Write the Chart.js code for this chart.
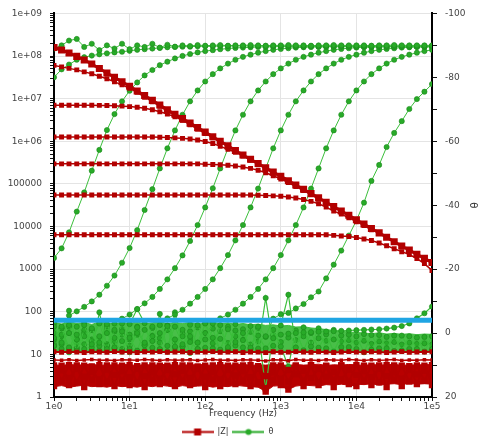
<!DOCTYPE html>
<html lang="en">
<head>
    <meta charset="UTF-8">
    <title>|Z| and θ vs Frequency</title>
    <script src="https://cdn.jsdelivr.net/npm/chart.js@4.4.0/dist/chart.umd.min.js"></script>
    <style>
        html, body { margin: 0; padding: 0; background: #fff; overflow: hidden; }
        #chart-container { position: relative; width: 479px; height: 441px; }
    </style>
</head>
<body>
<div id="chart-container"><canvas id="myChart" width="479" height="441"></canvas></div>

<script>
    // frequency grid (Hz), 10 points per decade
    const freq = [1, 1.26, 1.58, 2, 2.51, 3.16, 3.98, 5.01, 6.31, 7.94,
        10, 12.6, 15.8, 20, 25.1, 31.6, 39.8, 50.1, 63.1, 79.4,
        100, 126, 158, 200, 251, 316, 398, 501, 631, 794,
        1000, 1260, 1580, 2000, 2510, 3160, 3980, 5010, 6310, 7940,
        10000, 12600, 15800, 20000, 25100, 31600, 39800, 50100, 63100, 79400,
        100000];

    // |Z| (ohm) - left axis
    const zCap = [1.59e8, 1.39e8, 1.18e8, 9.8e7, 8.1e7, 6.5e7, 5.1e7, 4.0e7, 3.16e7, 2.48e7,
        1.95e7, 1.51e7, 1.18e7, 9.1e6, 7.1e6, 5.5e6, 4.3e6, 3.4e6, 2.66e6, 2.09e6,
        1.64e6, 1.28e6, 1.0e6, 7.8e5, 6.1e5, 4.76e5, 3.78e5, 3.0e5, 2.38e5, 1.89e5,
        1.5e5, 1.19e5, 9.4e4, 7.5e4, 5.9e4, 4.7e4, 3.7e4, 2.93e4, 2.31e4, 1.83e4,
        1.44e4, 1.14e4, 8.98e3, 7.1e3, 5.6e3, 4.4e3, 3.5e3, 2.8e3, 2.24e3, 1.79e3,
        1.43e3];
    const z60M = [6.03e7, 5.56e7, 5.13e7, 4.73e7, 4.25e7, 3.82e7, 3.34e7, 2.92e7, 2.48e7, 2.11e7,
        1.75e7, 1.41e7, 1.08e7, 8.5e6, 6.6e6, 5.1e6, 4.0e6, 3.13e6, 2.45e6, 1.93e6,
        1.51e6];
    const z7M = [7.0e6, 7.0e6, 7.0e6, 7.0e6, 7.0e6, 6.98e6, 6.95e6, 6.87e6, 6.79e6, 6.67e6,
        6.5e6, 6.26e6, 5.92e6, 5.48e6, 4.95e6, 4.35e6, 3.74e6, 3.1e6, 2.5e6, 1.97e6,
        1.55e6, 1.21e6, 9.5e5];
    const z1M = [1.26e6, 1.26e6, 1.26e6, 1.26e6, 1.26e6, 1.26e6, 1.26e6, 1.26e6, 1.26e6, 1.26e6,
        1.26e6, 1.26e6, 1.26e6, 1.26e6, 1.236e6, 1.22e6, 1.2e6, 1.17e6, 1.13e6, 1.07e6,
        9.9e5, 8.9e5, 7.6e5, 6.5e5, 5.5e5, 4.5e5, 3.6e5, 2.88e5, 2.27e5, 1.8e5];
    const z300k = [2.95e5, 2.95e5, 2.95e5, 2.95e5, 2.95e5, 2.95e5, 2.95e5, 2.95e5, 2.95e5, 2.95e5,
        2.95e5, 2.95e5, 2.95e5, 2.95e5, 2.95e5, 2.95e5, 2.95e5, 2.95e5, 2.95e5, 2.95e5,
        2.89e5, 2.86e5, 2.81e5, 2.74e5, 2.64e5, 2.5e5, 2.31e5, 2.09e5, 1.83e5, 1.55e5,
        1.3e5, 1.07e5, 8.7e4, 7.0e4, 5.6e4, 4.45e4];
    const z55k = [5.5e4, 5.5e4, 5.5e4, 5.5e4, 5.5e4, 5.5e4, 5.5e4, 5.5e4, 5.5e4, 5.5e4,
        5.5e4, 5.5e4, 5.5e4, 5.5e4, 5.5e4, 5.5e4, 5.5e4, 5.5e4, 5.5e4, 5.5e4,
        5.5e4, 5.5e4, 5.5e4, 5.5e4, 5.5e4, 5.5e4, 5.5e4, 5.4e4, 5.34e4, 5.24e4,
        5.11e4, 4.92e4, 4.65e4, 4.31e4, 3.89e4, 3.42e4, 2.85e4, 2.3e4, 1.95e4, 1.6e4,
        1.3e4, 1.05e4, 8.4e3];
    const z6k = [6.4e3, 6.4e3, 6.4e3, 6.4e3, 6.4e3, 6.4e3, 6.4e3, 6.4e3, 6.4e3, 6.4e3,
        6.4e3, 6.4e3, 6.4e3, 6.4e3, 6.4e3, 6.4e3, 6.4e3, 6.4e3, 6.4e3, 6.4e3,
        6.4e3, 6.4e3, 6.4e3, 6.4e3, 6.4e3, 6.4e3, 6.4e3, 6.4e3, 6.4e3, 6.4e3,
        6.4e3, 6.4e3, 6.4e3, 6.4e3, 6.4e3, 6.4e3, 6.4e3, 6.2e3, 6.0e3, 5.8e3,
        5.5e3, 5.1e3, 4.7e3, 4.1e3, 3.55e3, 3.0e3, 2.57e3, 2.2e3, 1.77e3, 1.35e3,
        930];
    // low impedance runs (noisy)
    const zLowA = [11.5, 11.2, 11.6, 11.3, 11.1, 11.5, 11.4, 11.2, 11.6, 11.3,
        11.4, 11.1, 11.5, 11.3, 11.6, 11.2, 11.4, 11.5, 11.1, 11.3,
        11.4, 11.6, 11.2, 11.3, 11.5, 11.1, 11.4, 11.3, 11.0, 11.5,
        11.2, 11.3, 11.6, 11.4, 11.2, 11.5, 11.3, 11.1, 11.4, 11.6,
        11.3, 11.2, 11.5, 11.4, 11.1, 11.3, 11.6, 11.2, 11.4, 11.3,
        11.5];
    const zLowB = [7.4, 7.3, 7.5, 7.2, 7.4, 7.6, 7.3, 7.4, 7.2, 7.5,
        7.4, 7.3, 7.6, 7.4, 7.2, 7.5, 7.3, 7.4, 7.5, 7.2,
        7.4, 7.6, 7.3, 7.4, 7.2, 7.5, 7.4, 7.3, 7.0, 7.5,
        7.4, 7.1, 7.6, 7.3, 7.4, 7.2, 7.5, 7.4, 7.3, 7.6,
        7.4, 7.2, 7.5, 7.3, 7.4, 7.6, 7.2, 7.4, 7.3, 7.5,
        7.4];
    const zLowC = [1.8, 5.4, 1.9, 5.5, 1.7, 5.2, 2.0, 5.5, 1.8, 5.4,
        1.9, 5.3, 1.7, 5.5, 2.0, 5.4, 1.8, 5.5, 1.9, 5.2,
        1.7, 5.5, 1.8, 5.4, 2.0, 5.5, 1.8, 5.3, 1.35, 5.5,
        1.9, 1.5, 5.4, 1.8, 5.5, 1.9, 5.3, 1.7, 5.5, 2.0,
        1.8, 5.4, 1.9, 5.5, 1.7, 5.5, 1.8, 5.3, 2.0, 5.4,
        1.9];
    const zLowD = [5.5, 2.4, 5.6, 2.2, 5.4, 2.5, 5.6, 2.3, 5.5, 2.4,
        5.6, 2.2, 5.5, 2.5, 5.4, 2.3, 5.6, 2.4, 5.5, 2.2,
        5.4, 2.5, 5.6, 2.3, 5.4, 2.4, 5.6, 2.2, 1.6, 2.5,
        5.5, 2.3, 5.4, 2.4, 5.6, 2.2, 5.4, 2.5, 5.5, 2.3,
        5.6, 2.4, 5.4, 2.2, 5.6, 2.5, 5.4, 2.3, 5.5, 2.4,
        5.6];
    const zLowE = [3.2, 4.2, 2.8, 4.5, 3.0, 3.9, 2.6, 4.4, 3.3, 4.0,
        2.9, 4.6, 3.1, 3.8, 2.7, 4.3, 3.4, 4.1, 2.8, 4.5,
        3.0, 3.9, 2.6, 4.4, 3.2, 4.0, 2.9, 4.6, 3.1, 3.8,
        2.7, 4.3, 3.4, 4.1, 2.8, 4.5, 3.0, 3.9, 2.6, 4.4,
        3.3, 4.0, 2.9, 4.6, 3.1, 3.8, 2.7, 4.3, 3.4, 4.1,
        3.0];
    // outline of the dense low |Z| band
    const zBandTop = [5.7, 5.5, 5.8, 5.6, 5.7, 5.9, 5.5, 5.7, 5.6, 5.8,
        5.7, 5.5, 5.8, 5.6, 5.7, 5.9, 5.5, 5.7, 5.6, 5.8,
        5.7, 5.5, 5.8, 5.6, 5.7, 5.9, 5.5, 5.7, 5.6, 5.8,
        5.7, 5.5, 5.8, 5.6, 5.7, 5.9, 5.5, 5.7, 5.6, 5.8,
        5.7, 5.5, 5.8, 5.6, 5.7, 5.9, 5.5, 5.7, 5.6, 5.8,
        5.7];
    const zBandBottom = [1.75, 1.85, 1.7, 1.8, 1.9, 1.75, 1.8, 1.7, 1.85, 1.75,
        1.8, 1.7, 1.85, 1.75, 1.9, 1.8, 1.7, 1.85, 1.75, 1.8,
        1.85, 1.7, 1.8, 1.75, 1.9, 1.8, 1.75, 1.7, 1.35, 1.8,
        1.85, 1.5, 1.8, 1.9, 1.85, 1.8, 1.95, 1.9, 2.0, 1.9,
        2.0, 1.95, 2.05, 1.9, 2.0, 2.05, 1.95, 2.1, 2.0, 2.05,
        2.0];

    // θ (deg) - right axis
    const thCap = [-89, -90, -91.5, -92, -89.5, -90.5, -88.5, -90, -89, -90.5,
        -88.8, -90, -89.5, -90.5, -89.3, -90.2, -89.6, -90, -89.8, -90.1,
        -89.9, -90, -90.1, -89.9, -90, -90, -90.1, -90, -89.9, -90,
        -90, -90.1, -90, -90, -89.9, -90, -90, -90.1, -90, -90,
        -90, -90, -89.9, -90, -90, -90.1, -90, -90, -90, -90,
        -90];
    const th1G = [-80, -82.5, -84, -85.5, -86.3, -86.8, -87.2, -87.5, -87.8, -88,
        -88.3, -88.6, -88.8, -89, -89.2, -89.4, -89.5, -89.6, -89.6, -89.7,
        -89.7, -89.7, -89.8, -89.8, -89.8, -89.8, -89.8, -89.8, -89.8, -89.8,
        -89.8, -89.8, -89.8, -89.8, -89.8, -89.8, -89.8, -89.8, -89.8, -89.8,
        -89.8, -89.8, -89.8, -89.8, -89.8, -89.8, -89.8, -89.8, -89.8, -89.8,
        -89.8];
    const th60M = [-23.5, -26.5, -31.5, -38, -44, -50.8, -57.3, -63.5, -68.5, -72.5,
        -75.8, -78.4, -80.6, -82.3, -83.8, -84.9, -85.9, -86.7, -87.3, -87.8,
        -88.2, -88.5, -88.8, -89, -89.2, -89.3, -89.4, -89.5, -89.5, -89.6,
        -89.6, -89.6, -89.6, -89.6, -89.6, -89.6, -89.6, -89.6, -89.6, -89.6,
        -89.6, -89.6, -89.6, -89.6, -89.6, -89.6, -89.6, -89.6, -89.6, -89.6,
        -89.6];
    const th7M = [1.5, -2, -5.5, -6.8, -8.2, -9.9, -12, -14.8, -18, -22,
        -26.6, -32.2, -38.5, -45, -51.5, -57.8, -63.4, -68.3, -72.5, -75.9,
        -78.7, -81, -82.8, -84.3, -85.5, -86.4, -87.1, -87.7, -88.2, -88.6,
        -88.9, -89.1, -89.3, -89.4, -89.5, -89.5, -89.6, -89.6, -89.6, -89.6,
        -89.6, -89.6, -89.6, -89.6, -89.6, -89.6, -89.6, -89.6, -89.6, -89.6,
        -89.6];
    const th1M = [2, -1.5, 4.5, 0.5, -2.5, 3.5, 1, 5, -1, -4.5,
        -5.8, -7.5, -9.3, -11.3, -13.8, -16.8, -20.3, -24.3, -28.8, -33.8,
        -39.3, -45.3, -51.5, -57.8, -63.4, -68.3, -72.5, -75.9, -78.7, -81,
        -82.8, -84.3, -85.5, -86.4, -87.1, -87.7, -88.2, -88.6, -88.9, -89.1,
        -89.3, -89.4, -89.5, -89.5, -89.6, -89.6, -89.6, -89.7, -89.7, -89.7,
        -89.7];
    const th300k = [-2, 3, 0, 5.5, -1, 2.5, -3, 4, 1.5, -0.5,
        5, 0, 3, -2, -2.5, -4.6, -5.8, -7.3, -9.2, -11.3,
        -13.8, -16.8, -20.3, -24.4, -29, -33.8, -39.3, -45.2, -51.5, -57.8,
        -63.4, -68.3, -72.5, -75.9, -78.7, -81, -82.8, -84.3, -85.5, -86.4,
        -87.1, -87.7, -88.2, -88.6, -88.9, -89.1, -89.3, -89.4, -89.5, -89.5,
        -89.6];
    const th55k = [4, 0.5, -2.5, 2, 5, -1.5, 3, 0, 4.5, -3,
        1.5, 5.5, -1, 2.5, 0, 4, -2, 3.5, 1, -2.5,
        2, -3, -4.6, -5.8, -7.3, -9.2, -11.3, -13.8, -16.8, -20.3,
        -24.4, -29, -33.8, -39.3, -45.2, -51.5, -57.8, -63.4, -68.3, -72.5,
        -75.9, -78.7, -81, -82.8, -84.3, -85.5, -86.4, -87.1, -87.7, -88.2,
        -88.6];
    const th6k = [0, 3.5, -2, 5, 1, -1, 4, -2.8, 2.5, 5.8,
        0.5, -1.8, 3.8, 1, 5, -2.2, 2, 4.2, -0.5, 3,
        -3, 1.5, 5.2, -1.2, 2.8, 0, 4.6, -2, 1, -4.5,
        -5.9, -6.3, -7.7, -9.1, -11.2, -13, -17.1, -21.4, -25.8, -30.5,
        -35.2, -40.8, -47.6, -52.6, -58.2, -62.6, -66.3, -70.1, -73.2, -75.5,
        -77.9];
    const thLowA = [3, 1, 5, 2, 0, 4.5, 1.5, 3.5, -0.5, 2.5,
        4, 0.5, 5.5, 2, 3, -1, 4.2, 1, 2.8, 5,
        0, 3.2, 1.8, 4.4, -0.8, 2.2, 3.6, 0.8, 4.8, 1.6,
        0.5, 0.2, 0, -0.2, -0.3, -0.4, -0.5, -0.6, -0.7, -0.8,
        -0.9, -1.0, -1.1, -1.2, -1.4, -1.7, -2.2, -3.0, -4.6, -6.2,
        -8.3];
    const thLowB = [-3, 5, -7, 4.5, -3.2, 5.5, -6.5, 4, -3, 5,
        -2.8, -7.5, -3.1, 4.6, -6, 5.8, -6.5, 4.2, -2.6, 5,
        -3.2, 4.8, -2.5, 5.1, -2.8, 4.5, -2.2, 4.9, -11, 4,
        -2.4, -12, 4.5, -1.8, 4.2, -1.5, 4.8, -1, 4.4, 0.5,
        5, 0.3, 5.2, 0.6, 4.8, 0.8, 5.5, 1, 5, 1.2,
        5];
    const thLowC = [4, -1.5, 6, -2, 3.5, -1, 5.5, -2.2, 4.8, -1.2,
        6, -2, 3.8, -1.6, 5.2, -2.4, 4.5, -1, 6.2, -1.8,
        4.6, -1.4, 5.6, -2, 3.9, -1.2, 5, -1.6, 17.5, -1,
        4.2, 10.5, -0.8, 5.4, 0, 4.6, 0.4, 5.8, 0.8, 4.4,
        1, 6, 0.6, 4.8, 1.2, 5.6, 0.8, 5, 1.4, 5.8,
        1];
    const thLowD = [1, 2.5, 0, 3, -0.5, 2, 1.5, -1, 3, 0.5,
        2, -0.5, 3.2, 0.8, 1.6, -1, 2.8, 0.2, 1.8, 3,
        0, 2.4, -0.6, 3.1, 1, 2, -0.4, 2.6, 1.2, 0.6,
        2.8, 1.4, 2.2, 1, 3, 1.6, 2.4, 2, 2.6, 2.2,
        3, 2.4, 3.4, 2.6, 3.2, 2.8, 3.6, 3, 3.4, 3.2,
        3.6];
    // outline of the dense θ noise band
    const thBandTop = [-3.4, -2.8, -3.6, -3.0, -3.3, -2.7, -3.5, -3.1, -2.9, -3.4,
        -3.0, -3.5, -2.8, -3.2, -3.6, -2.9, -3.3, -3.0, -3.4, -2.8,
        -3.1, -3.5, -2.9, -3.2, -2.7, -3.0, -2.6, -2.8, -2.4, -2.6,
        -2.2, -2.4, -1.9, -2.0, -1.6, -1.4, -1.1, -0.8, -0.6, -0.3,
        -0.2, 0, 0.2, -0.1, 0.3, 0.1, 0.4, 0.2, 0.5, 0.3,
        0.4];
    const thBandBottom = [5.6, 6.0, 5.4, 5.9, 5.7, 6.1, 5.5, 5.8, 6.0, 5.6,
        5.9, 5.5, 6.1, 5.7, 5.8, 6.0, 5.4, 5.9, 5.6, 6.1,
        5.7, 5.5, 6.0, 5.8, 5.6, 5.9, 5.4, 5.8, 6.2, 5.7,
        5.9, 6.0, 5.5, 5.8, 6.1, 5.6, 5.9, 5.7, 6.0, 5.8,
        6.1, 5.7, 5.9, 6.2, 5.8, 6.0, 5.7, 6.1, 5.9, 6.0,
        5.8];

    // blue reference level (left axis)
    const refFreq = [1, 100000];
    const refLevel = [63, 63];

    const FONT = 'DejaVu Sans';
    const RED = '#b20000';
    const GREEN = '#3cbf3c';
    const GREEN_DOT = '#28aa28';
    const BLUE = '#1fa5e3';

    function toPoints(values, xs) {
        xs = xs || freq;
        return values.map(function (v, i) { return {x: xs[i], y: v}; });
    }

    function zSet(values, size, width) {
        return {
            data: toPoints(values), yAxisID: 'y', order: 1,
            borderColor: RED, backgroundColor: RED, borderWidth: width,
            pointStyle: 'rect', pointRadius: size, pointBackgroundColor: RED, pointBorderWidth: 0
        };
    }

    function thSet(values, width) {
        return {
            data: toPoints(values), yAxisID: 'y2', order: 2,
            borderColor: GREEN, backgroundColor: GREEN, borderWidth: width || 1,
            pointStyle: 'circle', pointRadius: 2.6, pointBackgroundColor: GREEN_DOT,
            pointBorderColor: '#1b8a1b', pointBorderWidth: 0.6
        };
    }

    // filled outline (no markers), fill goes to the previous dataset
    function bandSet(values, axis, color, fillIt) {
        return {
            data: toPoints(values), yAxisID: axis, order: 3,
            borderColor: color, backgroundColor: color, borderWidth: 1,
            pointRadius: 0, fill: fillIt ? '-1' : false
        };
    }

    function isDecade(v) {
        const e = Math.log10(v);
        return Math.abs(e - Math.round(e)) < 1e-9;
    }

    // 1..9 x 10^n ticks (no 1.5 steps)
    function logTicks(maxExp) {
        const out = [];
        for (let e = 0; e < maxExp; e++) {
            for (let k = 1; k <= 9; k++) out.push({value: k * Math.pow(10, e)});
        }
        out.push({value: Math.pow(10, maxExp)});
        return out;
    }

    // legend sample: line with marker in the middle
    function makeIcon(color, marker) {
        const c = document.createElement('canvas');
        c.width = 32; c.height = 9;
        const g = c.getContext('2d');
        g.strokeStyle = color; g.lineWidth = 2;
        g.beginPath(); g.moveTo(0, 4.5); g.lineTo(32, 4.5); g.stroke();
        g.fillStyle = color;
        if (marker === 'rect') {
            g.fillRect(12.5, 1, 7, 7);
        } else {
            g.beginPath(); g.arc(16, 4.5, 3, 0, Math.PI * 2); g.fill();
        }
        return c;
    }
    const iconZ = makeIcon(RED, 'rect');
    const iconTh = makeIcon(GREEN_DOT, 'circle');

    const legendNudge = {
        id: 'legendNudge',
        afterLayout: function (chart) {
            const lg = chart.legend;
            lg.top += 5; lg.bottom += 5;
            lg.left -= 12; lg.right -= 12;
        }
    };

    const gridColor = function (c) {
        return (c.tick && isDecade(c.tick.value)) ? '#e4e4e4' : 'rgba(0,0,0,0)';
    };

    const datasets = [
        {data: toPoints(refLevel, refFreq), yAxisID: 'y', order: 0, borderColor: BLUE, borderWidth: 5, pointRadius: 0},
        zSet(zCap, 5, 3),
        zSet(z60M, 3.5, 1.5),
        zSet(z7M, 3.5, 1.5),
        zSet(z1M, 3.5, 1.5),
        zSet(z300k, 3.5, 1.5),
        zSet(z55k, 3.5, 1.5),
        zSet(z6k, 3.5, 1.5),
        zSet(zLowA, 3.5, 2),
        zSet(zLowB, 2.5, 1.5),
        zSet(zLowC, 4.5, 2),
        zSet(zLowD, 4.5, 2),
        zSet(zLowE, 4.5, 2),
        thSet(thCap), thSet(th1G), thSet(th60M), thSet(th7M), thSet(th1M),
        thSet(th300k), thSet(th55k), thSet(th6k),
        thSet(thLowA, 1.2), thSet(thLowB, 1.2), thSet(thLowC, 1.2), thSet(thLowD, 1.2),
        bandSet(zBandTop, 'y', '#b80000', false),
        bandSet(zBandBottom, 'y', '#b80000', true),
        bandSet(thBandTop, 'y2', 'rgba(52,184,52,0.9)', false),
        bandSet(thBandBottom, 'y2', 'rgba(52,184,52,0.9)', true)
    ];

    const myChart = new Chart(document.getElementById('myChart'), {
        type: 'line',
        data: {datasets: datasets},
        plugins: [legendNudge],
        options: {
            responsive: false,
            animation: false,
            events: [],
            layout: {padding: {top: 12, left: 0, right: 0, bottom: 0}},
            elements: {line: {tension: 0}},
            plugins: {
                tooltip: {enabled: false},
                legend: {
                    position: 'bottom',
                    onClick: null,
                    labels: {
                        usePointStyle: true,
                        pointStyleWidth: 32,
                        padding: 4,
                        color: '#333',
                        font: {family: FONT, size: 8},
                        generateLabels: function () {
                            return [
                                {text: '|Z|', pointStyle: iconZ, fillStyle: RED, strokeStyle: RED, lineWidth: 0, hidden: false, datasetIndex: 1, fontColor: '#333'},
                                {text: 'θ', pointStyle: iconTh, fillStyle: GREEN, strokeStyle: GREEN, lineWidth: 0, hidden: false, datasetIndex: 13, fontColor: '#333'}
                            ];
                        }
                    }
                }
            },
            scales: {
                x: {
                    type: 'logarithmic', min: 1, max: 100000,
                    afterBuildTicks: function (s) { s.ticks = logTicks(5); },
                    afterFit: function (s) { s.height = s.chart.height - s.chart.legend.height - 397; },
                    grid: {color: gridColor, tickColor: '#111', tickLength: 4, lineWidth: 1},
                    border: {display: true, color: '#000', width: 2},
                    ticks: {
                        autoSkip: false, maxRotation: 0, padding: 0, color: '#444',
                        font: {family: FONT, size: 9},
                        callback: function (v) { return isDecade(v) ? '1e' + Math.round(Math.log10(v)) : ''; }
                    },
                    title: {display: true, text: 'Frequency (Hz)', color: '#333', font: {family: FONT, size: 9}, padding: {top: 0, bottom: 0}}
                },
                y: {
                    type: 'logarithmic', position: 'left', min: 1, max: 1e9,
                    afterBuildTicks: function (s) { s.ticks = logTicks(9); },
                    afterFit: function (s) { s.width = 54; },
                    grid: {color: gridColor, tickColor: '#111', tickLength: 4, lineWidth: 1},
                    border: {display: true, color: '#000', width: 2},
                    ticks: {
                        autoSkip: false, padding: 8, color: '#444',
                        font: {family: FONT, size: 9},
                        callback: function (v) {
                            if (!isDecade(v)) return '';
                            const e = Math.round(Math.log10(v));
                            return e >= 6 ? '1e+0' + e : String(Math.round(v));
                        }
                    }
                },
                y2: {
                    type: 'linear', position: 'right', min: -100, max: 20, reverse: true,
                    afterFit: function (s) { s.width = 47; },
                    grid: {drawOnChartArea: false, tickColor: '#111', tickLength: 5},
                    border: {display: true, color: '#000', width: 2},
                    ticks: {
                        stepSize: 10, autoSkip: false, padding: 8, color: '#444',
                        font: {family: FONT, size: 9},
                        callback: function (v) { return v % 20 === 0 ? String(v) : ''; }
                    },
                    title: {display: true, text: 'θ', color: '#333', font: {family: FONT, size: 10}, padding: 0}
                }
            }
        }
    });
</script>
</body>
</html>
